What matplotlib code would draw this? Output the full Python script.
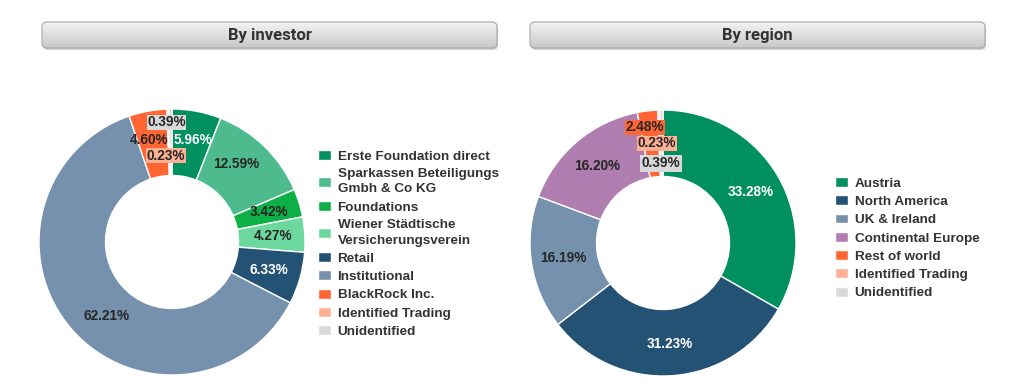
import numpy as np
import matplotlib
matplotlib.use("Agg")
import matplotlib.pyplot as plt
from matplotlib.patches import FancyBboxPatch

W, H = 1032, 386

investor_labels = ["Erste Foundation direct", "Sparkassen Beteiligungs\nGmbh & Co KG", "Foundations",
                   "Wiener Städtische\nVersicherungsverein", "Retail", "Institutional",
                   "BlackRock Inc.", "Identified Trading", "Unidentified"]
investor_values = [5.96, 12.59, 3.42, 4.27, 6.33, 62.21, 4.60, 0.23, 0.39]
investor_colors = ["#008F5F", "#4DBB8E", "#0DAF47", "#6CD89E", "#245275", "#7691AD",
                   "#FF6633", "#FFAF94", "#D9D9D9"]

region_labels = ["Austria", "North America", "UK & Ireland", "Continental Europe",
                 "Rest of world", "Identified Trading", "Unidentified"]
region_values = [33.28, 31.23, 16.19, 16.20, 2.48, 0.23, 0.39]
region_colors = ["#008F5F", "#245275", "#7691AD", "#B07DB0", "#FF6633", "#FFAF94", "#D9D9D9"]

DARK = "#262626"
plt.rcParams['font.family'] = ['Liberation Sans', 'DejaVu Sans']

fig = plt.figure(figsize=(W / 100, H / 100), dpi=100)


def px_axes(x0, y0, w, h):
    return fig.add_axes([x0 / W, 1 - (y0 + h) / H, w / W, h / H])


def header(x0, x1, title):
    y0, y1 = 22, 48
    ax = px_axes(x0 - 4, y0 - 4, x1 - x0 + 8, y1 - y0 + 8)
    ax.axis("off")
    shadow = FancyBboxPatch((x0 + 1, y0 + 2), x1 - x0, y1 - y0,
                            boxstyle="round,pad=0,rounding_size=5",
                            fc="#9a9a9a", ec="none", alpha=0.45)
    ax.add_patch(shadow)
    box = FancyBboxPatch((x0, y0), x1 - x0, y1 - y0,
                         boxstyle="round,pad=0,rounding_size=5",
                         fc="none", ec="#a8a8a8", lw=0.8, zorder=3)
    ax.add_patch(box)
    grad = np.linspace(0, 1, 50).reshape(-1, 1)
    img = ax.imshow(grad, cmap=matplotlib.colors.LinearSegmentedColormap.from_list(
        "g", ["#f2f2f2", "#c9c9c9"]), extent=(x0, x1, y1, y0), aspect="auto", zorder=2)
    img.set_clip_path(box)
    ax.set_xlim(x0 - 4, x1 + 4)
    ax.set_ylim(y1 + 4, y0 - 4)
    ax.text((x0 + x1) / 2, (y0 + y1) / 2 + 0.5, title, ha="center", va="center",
            fontsize=12, fontweight="bold", color="#333333", family=["Roboto", "DejaVu Sans"], zorder=4)


def donut(cx, cy, values, colors, text_colors, overrides, boxes):
    r = 133
    ax = px_axes(cx - r, cy - r, 2 * r, 2 * r)
    wedges, _ = ax.pie(values, colors=colors, startangle=90, counterclock=False,
                       radius=1, wedgeprops=dict(width=0.5, edgecolor="white", linewidth=1))
    ax.set_xlim(-1, 1)
    ax.set_ylim(-1, 1)
    ax.set_aspect("equal")
    for i, (w, v) in enumerate(zip(wedges, values)):
        if i in overrides:
            x, y = overrides[i]
        else:
            a = np.deg2rad((w.theta1 + w.theta2) / 2)
            x, y = 0.76 * np.cos(a), 0.76 * np.sin(a)
        bbox = None
        if i in boxes:
            bbox = dict(boxstyle=boxes[i][1], fc=boxes[i][0], ec="none")
        ax.text(x, y, f"{v:.2f}%", ha="center", va="center", fontsize=9.8, fontweight="bold",
                color=text_colors[i], bbox=bbox, zorder=5)
    return ax, wedges


header(42, 497, "By investor")
header(530, 985, "By region")

inv_tc = ["white", DARK, DARK, DARK, "white", DARK, DARK, DARK, DARK]
ax1, w1 = donut(172, 242, investor_values, investor_colors, inv_tc,
                {0: (0.16, 0.765), 1: (0.48, 0.59), 5: (-0.49, -0.56),
                 6: (-0.17, 0.77), 7: (-0.045, 0.65), 8: (-0.04, 0.90)},
                {7: ("#FFAF94", "square,pad=0.03"), 8: ("#D9D9D9", "square,pad=0.03")})

reg_tc = ["white", "white", DARK, DARK, DARK, DARK, DARK]
ax2, w2 = donut(663, 243, region_values, region_colors, reg_tc,
                {4: (-0.135, 0.87), 5: (-0.045, 0.75), 6: (-0.015, 0.60)},
                {4: ("#FF6633", "square,pad=0.03"), 5: ("#FFAF94", "square,pad=0.03"),
                 6: ("#D9D9D9", "square,pad=0.12")})

leg_kw = dict(loc="upper left", frameon=False, borderpad=0, borderaxespad=0,
              handlelength=1.0, handleheight=0.75, handletextpad=0.45, labelspacing=0.42,
              prop=dict(family="Liberation Sans", weight="bold", size=9.7),
              labelcolor="#333333", bbox_transform=fig.transFigure)
leg1 = fig.legend(w1, investor_labels, bbox_to_anchor=(318 / W, 1 - 150 / H), **leg_kw)
leg2 = fig.legend(w2, region_labels, bbox_to_anchor=(835 / W, 1 - 177 / H), **leg_kw)
for t in leg1.get_texts():
    t.set_linespacing(1.35)

fig.savefig("out.png", dpi=100, facecolor="white")
